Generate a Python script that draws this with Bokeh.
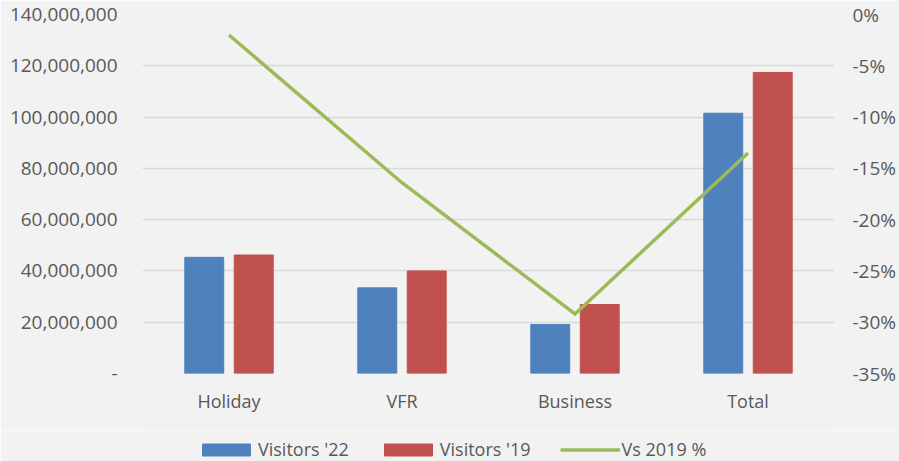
from bokeh.plotting import figure
from bokeh.models import (ColumnDataSource, FactorRange, Range1d, LinearAxis,
                          FixedTicker, Legend, LegendItem)
from bokeh.layouts import column
from bokeh.transform import dodge
from bokeh.embed import file_html
from bokeh.resources import INLINE

# ---- data ----
categories = ["Holiday", "VFR", "Business", "Total"]
visitors_22 = [45_300_000, 33_400_000, 19_100_000, 101_500_000]
visitors_19 = [46_200_000, 40_000_000, 26_900_000, 117_400_000]
vs_2019_pct = [-2.0, -16.4, -29.2, -13.5]

left_ticks = [0, 20_000_000, 40_000_000, 60_000_000, 80_000_000, 100_000_000, 120_000_000, 140_000_000]
left_labels = ["-", "20,000,000", "40,000,000", "60,000,000", "80,000,000", "100,000,000", "120,000,000", "140,000,000"]
right_ticks = [0, -5, -10, -15, -20, -25, -30, -35]
right_labels = ["0%", "-5%", "-10%", "-15%", "-20%", "-25%", "-30%", "-35%"]
series_names = ["Visitors '22", "Visitors '19", "Vs 2019 %"]

FONT = "Open Sans"
TXT = "#595959"
BG = "#F2F2F2"
GRID = "#D9D9D9"
C22, C19, CLN = "#4F81BD", "#C0504D", "#9BBB59"

source = ColumnDataSource(dict(cat=categories, v22=visitors_22, v19=visitors_19, pct=vs_2019_pct))

p = figure(width=899, height=430, x_range=FactorRange(*categories, range_padding=0),
           y_range=Range1d(0, 140_000_000), output_backend="svg", toolbar_location=None,
           min_border_left=142, min_border_right=63, min_border_top=14, min_border_bottom=57)
p.background_fill_color = BG
p.border_fill_color = BG
p.outline_line_color = None
p.extra_y_ranges = {"pct": Range1d(-35, 0)}

p.vbar(x=dodge("cat", -0.143, range=p.x_range), top="v22", width=0.225, source=source,
       fill_color=C22, line_color=C22)
p.vbar(x=dodge("cat", 0.143, range=p.x_range), top="v19", width=0.225, source=source,
       fill_color=C19, line_color=C19)
p.line(x="cat", y="pct", source=source, y_range_name="pct", line_color=CLN,
       line_width=3.5, line_join="miter")

# axes
p.xaxis.axis_line_color = None
p.xaxis.major_tick_line_color = None
p.xaxis.minor_tick_line_color = None
p.xaxis.major_tick_out = 0
p.xaxis.major_label_text_font = FONT
p.xaxis.major_label_text_font_size = "18px"
p.xaxis.major_label_text_color = TXT
p.xaxis.major_label_standoff = 15

ya = p.yaxis[0]
ya.ticker = FixedTicker(ticks=left_ticks)
ya.major_label_overrides = dict(zip(left_ticks, left_labels))
ya.axis_line_color = None
ya.major_tick_line_color = None
ya.minor_tick_line_color = None
ya.major_tick_out = 0
ya.major_label_text_font = FONT
ya.major_label_text_font_size = "19px"
ya.major_label_text_color = TXT
ya.major_label_standoff = 25

ra = LinearAxis(y_range_name="pct", ticker=FixedTicker(ticks=right_ticks))
ra.major_label_overrides = dict(zip(right_ticks, right_labels))
ra.axis_line_color = None
ra.major_tick_line_color = None
ra.minor_tick_line_color = None
ra.major_tick_out = 0
ra.major_label_text_font = FONT
ra.major_label_text_font_size = "19px"
ra.major_label_text_color = TXT
ra.major_label_standoff = 18
p.add_layout(ra, "right")

p.xgrid.grid_line_color = None
p.ygrid.ticker = FixedTicker(ticks=left_ticks)
p.ygrid.grid_line_color = GRID
p.ygrid.grid_line_width = 1.5

# ---- legend strip (separate figure below the chart; its frame is aligned with the chart's) ----
pl = figure(width=899, height=31, x_range=Range1d(0, 1), y_range=Range1d(0, 1),
            output_backend="svg", toolbar_location=None,
            x_axis_location=None, y_axis_location=None,
            min_border_left=0, min_border_right=0, min_border_top=0, min_border_bottom=0)
pl.background_fill_color = BG
pl.border_fill_color = BG
pl.outline_line_color = None
pl.grid.grid_line_color = None
# off-screen placeholder renderers that only carry the legend styles
proxy = ColumnDataSource(dict(x=[-5], y=[-5]))
r1 = pl.vbar(x="x", top="y", width=0.1, source=proxy, fill_color=C22, line_color=C22)
r2 = pl.vbar(x="x", top="y", width=0.1, source=proxy, fill_color=C19, line_color=C19)
r3 = pl.line(x="x", y="y", source=proxy, line_color=CLN, line_width=3.5)

legend = Legend(items=[LegendItem(label=series_names[0], renderers=[r1]),
                       LegendItem(label=series_names[1], renderers=[r2]),
                       LegendItem(label=series_names[2], renderers=[r3])],
                orientation="horizontal", location=(54, 0),
                glyph_width=60, glyph_height=15, label_standoff=2, spacing=29,
                padding=0, margin=0, border_line_color=None, background_fill_alpha=0,
                label_text_font=FONT, label_text_font_size="18px", label_text_color=TXT,
                label_height=20)
pl.add_layout(legend, "center")

open("out.html", "w").write(file_html(column(p, pl, spacing=0), INLINE))
